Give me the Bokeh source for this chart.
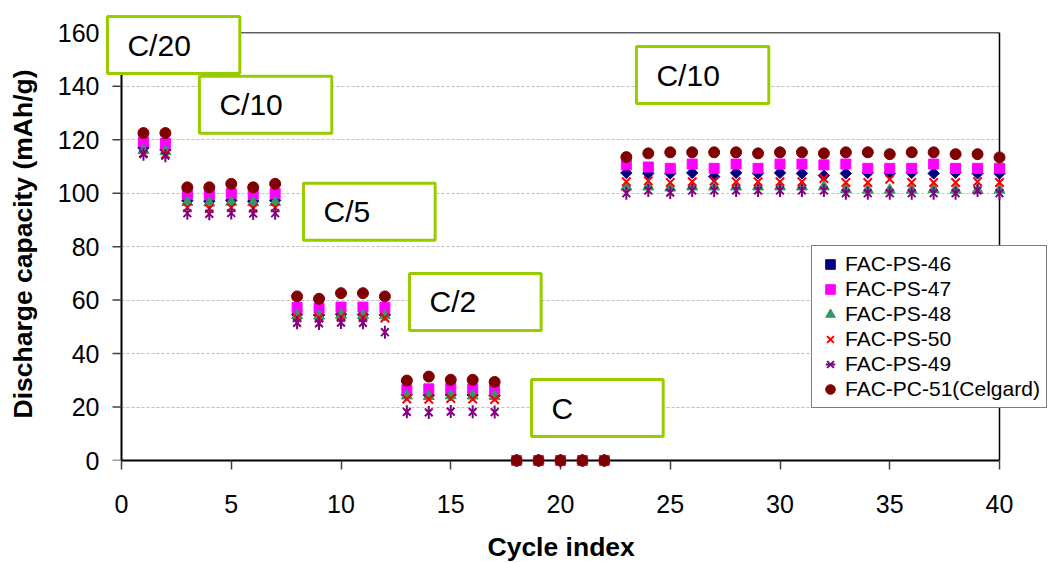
from bokeh.plotting import figure
from bokeh.models import Range1d, Label, Legend, LegendItem, FixedTicker, Title
from bokeh.embed import file_html
from bokeh.resources import INLINE

cycles = list(range(1, 41))

fac_ps_46 = [117.0, 116.2, 97.2, 97.0, 97.3, 97.0, 97.3, 54.6, 54.4, 54.7, 54.6, 54.5,
             24.6, 24.4, 24.6, 24.5, 24.3, 0, 0, 0, 0, 0,
             107.6, 107.4, 107.4, 107.6, 106.2, 107.6, 107.4, 107.6, 107.4, 106.6,
             107.4, 107.6, 107.4, 107.6, 107.4, 107.6, 107.4, 107.4]
fac_ps_47 = [119.2, 118.6, 99.6, 99.4, 99.9, 99.5, 99.9, 57.2, 57.0, 57.4, 57.4, 57.2,
             26.5, 26.8, 27.0, 26.8, 26.3, 0, 0, 0, 0, 0,
             110.6, 109.8, 109.3, 110.9, 109.3, 110.9, 109.3, 110.9, 110.9, 110.6,
             110.9, 109.3, 109.3, 109.3, 110.9, 109.3, 109.3, 109.3]
fac_ps_48 = [116.0, 115.6, 96.6, 96.4, 96.7, 96.5, 96.6, 54.3, 54.1, 54.4, 54.3, 54.2,
             24.2, 24.0, 24.3, 24.2, 24.0, 0, 0, 0, 0, 0,
             102.4, 102.4, 102.0, 102.4, 102.4, 102.4, 102.4, 102.4, 102.4, 102.4,
             101.4, 101.2, 101.2, 101.2, 101.4, 101.2, 101.2, 101.2]
fac_ps_50 = [115.0, 114.6, 94.6, 94.3, 94.6, 94.4, 94.6, 53.4, 53.3, 53.6, 53.5, 53.3,
             23.0, 22.9, 23.2, 23.0, 22.8, 0, 0, 0, 0, 0,
             104.3, 104.6, 104.0, 104.3, 104.6, 104.3, 104.3, 104.3, 104.3, 105.5,
             104.0, 104.0, 105.2, 104.0, 104.0, 104.0, 104.3, 104.0]
fac_ps_49 = [114.6, 114.0, 92.5, 92.3, 92.6, 92.4, 92.5, 51.5, 51.3, 51.6, 51.5, 48.0,
             18.2, 18.0, 18.3, 18.2, 18.1, 0, 0, 0, 0, 0,
             100.0, 101.0, 100.2, 101.0, 101.0, 101.0, 101.0, 101.0, 101.0, 101.0,
             100.0, 100.0, 100.0, 100.0, 100.0, 100.0, 101.0, 100.0]
fac_pc_51 = [122.5, 122.5, 102.2, 102.2, 103.5, 102.2, 103.5, 61.4, 60.5, 62.6, 62.6, 61.4,
             29.9, 31.4, 30.2, 30.2, 29.4, 0, 0, 0, 0, 0,
             113.5, 114.9, 115.3, 115.3, 115.3, 115.3, 114.9, 115.3, 115.3, 114.9,
             115.3, 115.3, 114.6, 115.3, 115.3, 114.6, 114.6, 113.4]

series_names = ["FAC-PS-46", "FAC-PS-47", "FAC-PS-48", "FAC-PS-50", "FAC-PS-49", "FAC-PC-51(Celgard)"]
series_values = [fac_ps_46, fac_ps_47, fac_ps_48, fac_ps_50, fac_ps_49, fac_pc_51]

x_ticks = [0, 5, 10, 15, 20, 25, 30, 35, 40]
y_ticks = [0, 20, 40, 60, 80, 100, 120, 140, 160]

x_title = "Cycle index"
y_title = "Discharge capacity (mAh/g)"
rate_labels = ["C/20", "C/10", "C/5", "C/2", "C", "C/10"]

# ---- styles / layout (not data) ----
styles = [
    [dict(marker="square", size=8, angle=0.785398, color="#000080", line_width=1)],
    [dict(marker="square", size=10, angle=0, color="#FF00FF", line_width=1)],
    [dict(marker="triangle", size=11, angle=0, color="#339966", line_width=1)],
    [dict(marker="x", size=12, angle=0, color="#FF0000", line_width=2)],
    [dict(marker="x", size=11, angle=0, color="#800080", line_width=2),
     dict(marker="dash", size=13, angle=1.5708, color="#800080", line_width=2)],
    [dict(marker="circle", size=11, angle=0, color="#800000", line_width=1)],
]
# box left (data x), box vertical centre (data y), text width estimate (px)
boxes = [
    (-0.64, 155.4, 63),
    (3.55, 133.1, 63),
    (8.29, 93.1, 47),
    (13.12, 59.3, 47),
    (18.68, 19.6, 22),
    (23.46, 144.2, 63),
]
BOX_W = 132
PAD_L = 20
PX_X = 21.95     # pixels per x unit
PX_Y = 2.673     # pixels per y unit
FRAME_LEFT = 104
FRAME_BOTTOM = 460
AXIS_PX = 121
TICK_LEN = 9

FONT = "Liberation Sans"

x_start = -(AXIS_PX - FRAME_LEFT) / PX_X
x_end = x_ticks[-1] + 50 / PX_X
y_end = FRAME_BOTTOM / PX_Y

p = figure(width=1049, height=563, output_backend="svg", toolbar_location=None,
           x_range=Range1d(x_start, x_end), y_range=Range1d(y_ticks[0], y_end),
           min_border_left=FRAME_LEFT, min_border_right=0, min_border_top=0,
           min_border_bottom=563 - FRAME_BOTTOM,
           background_fill_color="white", border_fill_color="white")

p.outline_line_color = None

for ax in (p.xaxis[0], p.yaxis[0]):
    ax.minor_tick_line_color = None
    ax.major_label_text_font = FONT
    ax.major_label_text_font_size = "25px"
    ax.major_label_text_color = "black"

xa = p.xaxis[0]
xa.ticker = FixedTicker(ticks=x_ticks)
xa.bounds = (x_ticks[0], x_ticks[-1])
xa.axis_line_color = "black"
xa.axis_line_width = 2
xa.major_tick_line_color = "#404040"
xa.major_tick_line_width = 1.5
xa.major_tick_in = 0
xa.major_tick_out = TICK_LEN
xa.major_label_standoff = 25

ya = p.yaxis[0]
ya.ticker = FixedTicker(ticks=y_ticks)
ya.axis_line_color = None
ya.major_tick_line_color = None
ya.major_tick_in = 0
ya.major_tick_out = 0
ya.major_label_standoff = 5

# axis titles as side-panel titles so they can be placed like the reference
p.add_layout(Title(text=x_title, align="left", offset=487 - FRAME_LEFT, vertical_align="top",
                   standoff=0, padding=dict(left=0, right=0, top=16, bottom=0),
                   text_font=FONT, text_font_size="26.5px", text_font_style="bold",
                   text_color="black"), "below")
p.add_layout(Title(text=y_title, align="left", offset=FRAME_BOTTOM - 418, vertical_align="bottom",
                   standoff=0, padding=dict(left=0, right=0, top=0, bottom=17),
                   text_font=FONT, text_font_size="26.5px", text_font_style="bold",
                   text_color="black"), "left")

p.xgrid.visible = False
p.ygrid.grid_line_color = "#BFBFBF"
p.ygrid.grid_line_dash = "3 2"
p.ygrid.grid_line_width = 1
p.ygrid.cross_bounds = (x_ticks[0], x_ticks[-1])

# plot-area frame: left axis line, top and right borders, y tick marks
x0, x1 = x_ticks[0], x_ticks[-1]
y0, y1 = y_ticks[0], y_ticks[-1]
p.segment(x0=[x0], y0=[y0], x1=[x0], y1=[y1], line_color="black", line_width=2)
p.segment(x0=[x0], y0=[y1], x1=[x1], y1=[y1], line_color="#606060", line_width=1.5)
p.segment(x0=[x1], y0=[y0], x1=[x1], y1=[y1], line_color="black", line_width=1.5)
p.segment(x0=[x0 - TICK_LEN / PX_X] * len(y_ticks), y0=y_ticks,
          x1=[x0] * len(y_ticks), y1=y_ticks, line_color="#404040", line_width=1.5)

items = []
for name, vals, sts in zip(series_names, series_values, styles):
    rs = []
    for st in sts:
        r = p.scatter(cycles, vals, marker=st["marker"], size=st["size"], angle=st["angle"],
                      fill_color=st["color"], line_color=st["color"],
                      line_width=st["line_width"], level="overlay")
        rs.append(r)
    items.append(LegendItem(label=name, renderers=rs))

for (bl, bc, tw), txt in zip(boxes, rate_labels):
    p.add_layout(Label(x=bl, y=bc, text=txt, text_font=FONT, text_font_size="30px",
                       text_color="black", text_align="left", text_baseline="middle",
                       padding=dict(left=PAD_L, right=BOX_W - PAD_L - tw, top=12, bottom=12),
                       background_fill_color="white", background_fill_alpha=1.0,
                       border_line_color="#99CC00", border_line_width=3))

legend = Legend(items=items, location=(811 - FRAME_LEFT, 52), orientation="vertical",
                label_text_font=FONT, label_text_font_size="21px", label_text_color="black",
                label_height=24, glyph_height=24, glyph_width=24, label_standoff=3,
                spacing=1, padding=6, margin=0,
                border_line_color="black", border_line_width=1.2,
                background_fill_color="white", background_fill_alpha=1.0)
p.add_layout(legend)

open("out.html", "w").write(file_html(p, INLINE))
